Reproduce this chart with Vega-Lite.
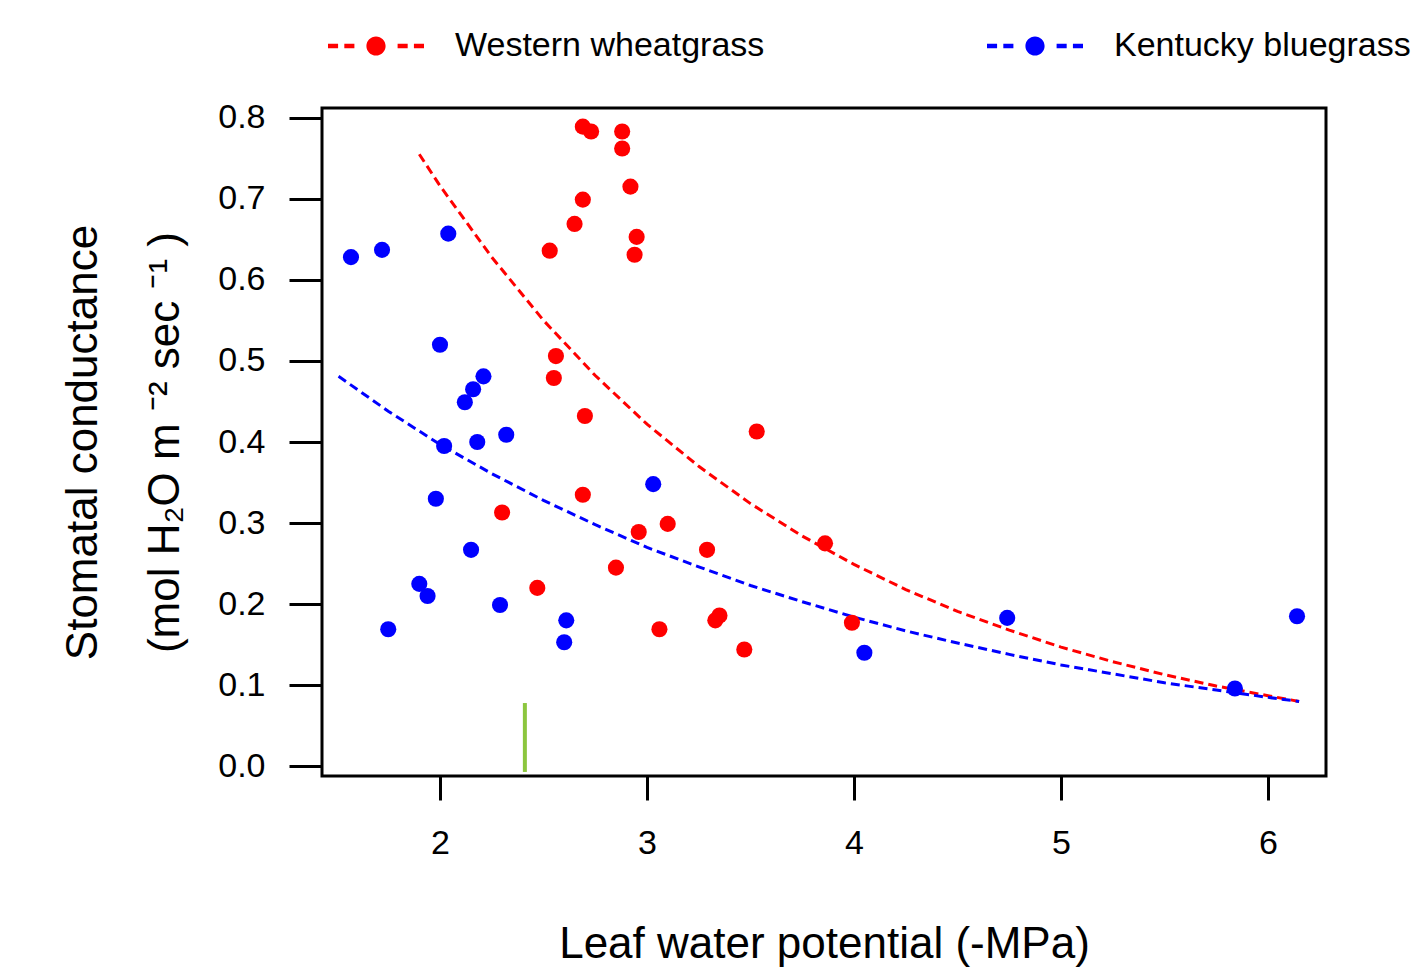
{
  "$schema": "https://vega.github.io/schema/vega-lite/v6.json",
  "width": 1004,
  "height": 668,
  "autosize": {"type": "none"},
  "padding": {"left": 322, "top": 108, "right": 88, "bottom": 202},
  "background": "white",
  "config": {
    "font": "Liberation Sans",
    "view": {"stroke": "black", "strokeWidth": 3},
    "axis": {"grid": false, "domain": false, "tickColor": "black", "tickWidth": 3, "labelColor": "black", "titleColor": "black", "labelFont": "Liberation Sans", "titleFont": "Liberation Sans", "titleFontWeight": "normal"},
    "legend": {"labelFont": "Liberation Sans"}
  },
  "datasets": {
    "pts": [
      {"species": "Western wheatgrass", "lwp": 2.69, "gs": 0.789},
      {"species": "Western wheatgrass", "lwp": 2.73, "gs": 0.783},
      {"species": "Western wheatgrass", "lwp": 2.88, "gs": 0.783},
      {"species": "Western wheatgrass", "lwp": 2.88, "gs": 0.762},
      {"species": "Western wheatgrass", "lwp": 2.92, "gs": 0.715},
      {"species": "Western wheatgrass", "lwp": 2.69, "gs": 0.699},
      {"species": "Western wheatgrass", "lwp": 2.65, "gs": 0.669},
      {"species": "Western wheatgrass", "lwp": 2.53, "gs": 0.636},
      {"species": "Western wheatgrass", "lwp": 2.95, "gs": 0.653},
      {"species": "Western wheatgrass", "lwp": 2.94, "gs": 0.631},
      {"species": "Western wheatgrass", "lwp": 2.56, "gs": 0.506},
      {"species": "Western wheatgrass", "lwp": 2.55, "gs": 0.479},
      {"species": "Western wheatgrass", "lwp": 2.70, "gs": 0.432},
      {"species": "Western wheatgrass", "lwp": 3.53, "gs": 0.413},
      {"species": "Western wheatgrass", "lwp": 2.69, "gs": 0.335},
      {"species": "Western wheatgrass", "lwp": 2.30, "gs": 0.313},
      {"species": "Western wheatgrass", "lwp": 3.10, "gs": 0.299},
      {"species": "Western wheatgrass", "lwp": 2.96, "gs": 0.289},
      {"species": "Western wheatgrass", "lwp": 3.29, "gs": 0.267},
      {"species": "Western wheatgrass", "lwp": 2.85, "gs": 0.245},
      {"species": "Western wheatgrass", "lwp": 2.47, "gs": 0.220},
      {"species": "Western wheatgrass", "lwp": 3.33, "gs": 0.180},
      {"species": "Western wheatgrass", "lwp": 3.35, "gs": 0.186},
      {"species": "Western wheatgrass", "lwp": 3.06, "gs": 0.169},
      {"species": "Western wheatgrass", "lwp": 3.47, "gs": 0.144},
      {"species": "Western wheatgrass", "lwp": 3.86, "gs": 0.275},
      {"species": "Western wheatgrass", "lwp": 3.99, "gs": 0.177},
      {"species": "Kentucky bluegrass", "lwp": 1.57, "gs": 0.628},
      {"species": "Kentucky bluegrass", "lwp": 1.72, "gs": 0.637},
      {"species": "Kentucky bluegrass", "lwp": 2.04, "gs": 0.657},
      {"species": "Kentucky bluegrass", "lwp": 2.00, "gs": 0.520},
      {"species": "Kentucky bluegrass", "lwp": 2.12, "gs": 0.449},
      {"species": "Kentucky bluegrass", "lwp": 2.16, "gs": 0.465},
      {"species": "Kentucky bluegrass", "lwp": 2.21, "gs": 0.481},
      {"species": "Kentucky bluegrass", "lwp": 2.02, "gs": 0.395},
      {"species": "Kentucky bluegrass", "lwp": 2.18, "gs": 0.400},
      {"species": "Kentucky bluegrass", "lwp": 2.32, "gs": 0.409},
      {"species": "Kentucky bluegrass", "lwp": 1.98, "gs": 0.330},
      {"species": "Kentucky bluegrass", "lwp": 2.15, "gs": 0.267},
      {"species": "Kentucky bluegrass", "lwp": 1.90, "gs": 0.225},
      {"species": "Kentucky bluegrass", "lwp": 1.94, "gs": 0.210},
      {"species": "Kentucky bluegrass", "lwp": 2.29, "gs": 0.199},
      {"species": "Kentucky bluegrass", "lwp": 1.75, "gs": 0.169},
      {"species": "Kentucky bluegrass", "lwp": 2.61, "gs": 0.180},
      {"species": "Kentucky bluegrass", "lwp": 2.60, "gs": 0.153},
      {"species": "Kentucky bluegrass", "lwp": 3.03, "gs": 0.348},
      {"species": "Kentucky bluegrass", "lwp": 4.05, "gs": 0.140},
      {"species": "Kentucky bluegrass", "lwp": 4.74, "gs": 0.183},
      {"species": "Kentucky bluegrass", "lwp": 5.84, "gs": 0.096},
      {"species": "Kentucky bluegrass", "lwp": 6.14, "gs": 0.185}
    ],
    "fit": [
      {"species": "Western wheatgrass", "lwp": 1.9, "gs": 0.755},
      {"species": "Western wheatgrass", "lwp": 2.0, "gs": 0.716},
      {"species": "Western wheatgrass", "lwp": 2.25, "gs": 0.628},
      {"species": "Western wheatgrass", "lwp": 2.5, "gs": 0.550},
      {"species": "Western wheatgrass", "lwp": 2.75, "gs": 0.482},
      {"species": "Western wheatgrass", "lwp": 3.0, "gs": 0.422},
      {"species": "Western wheatgrass", "lwp": 3.25, "gs": 0.370},
      {"species": "Western wheatgrass", "lwp": 3.5, "gs": 0.324},
      {"species": "Western wheatgrass", "lwp": 3.75, "gs": 0.284},
      {"species": "Western wheatgrass", "lwp": 4.0, "gs": 0.249},
      {"species": "Western wheatgrass", "lwp": 4.25, "gs": 0.218},
      {"species": "Western wheatgrass", "lwp": 4.5, "gs": 0.191},
      {"species": "Western wheatgrass", "lwp": 4.75, "gs": 0.168},
      {"species": "Western wheatgrass", "lwp": 5.0, "gs": 0.147},
      {"species": "Western wheatgrass", "lwp": 5.25, "gs": 0.129},
      {"species": "Western wheatgrass", "lwp": 5.5, "gs": 0.113},
      {"species": "Western wheatgrass", "lwp": 5.75, "gs": 0.099},
      {"species": "Western wheatgrass", "lwp": 6.0, "gs": 0.087},
      {"species": "Western wheatgrass", "lwp": 6.15, "gs": 0.080},
      {"species": "Kentucky bluegrass", "lwp": 1.51, "gs": 0.481},
      {"species": "Kentucky bluegrass", "lwp": 1.75, "gs": 0.438},
      {"species": "Kentucky bluegrass", "lwp": 2.0, "gs": 0.397},
      {"species": "Kentucky bluegrass", "lwp": 2.25, "gs": 0.361},
      {"species": "Kentucky bluegrass", "lwp": 2.5, "gs": 0.328},
      {"species": "Kentucky bluegrass", "lwp": 2.75, "gs": 0.298},
      {"species": "Kentucky bluegrass", "lwp": 3.0, "gs": 0.270},
      {"species": "Kentucky bluegrass", "lwp": 3.25, "gs": 0.246},
      {"species": "Kentucky bluegrass", "lwp": 3.5, "gs": 0.223},
      {"species": "Kentucky bluegrass", "lwp": 3.75, "gs": 0.203},
      {"species": "Kentucky bluegrass", "lwp": 4.0, "gs": 0.184},
      {"species": "Kentucky bluegrass", "lwp": 4.25, "gs": 0.167},
      {"species": "Kentucky bluegrass", "lwp": 4.5, "gs": 0.152},
      {"species": "Kentucky bluegrass", "lwp": 4.75, "gs": 0.138},
      {"species": "Kentucky bluegrass", "lwp": 5.0, "gs": 0.125},
      {"species": "Kentucky bluegrass", "lwp": 5.25, "gs": 0.114},
      {"species": "Kentucky bluegrass", "lwp": 5.5, "gs": 0.103},
      {"species": "Kentucky bluegrass", "lwp": 5.75, "gs": 0.094},
      {"species": "Kentucky bluegrass", "lwp": 6.0, "gs": 0.085},
      {"species": "Kentucky bluegrass", "lwp": 6.15, "gs": 0.080}
    ],
    "marker": [{"lwp": 2.41, "lo": -0.007, "hi": 0.078}]
  },
  "layer": [
    {
      "data": {"name": "marker"},
      "mark": {"type": "rule", "color": "#8cc63e", "strokeWidth": 4},
      "encoding": {
        "x": {"field": "lwp", "type": "quantitative"},
        "y": {"field": "lo", "type": "quantitative"},
        "y2": {"field": "hi"}
      }
    },
    {
      "data": {"name": "fit"},
      "mark": {"type": "line", "strokeWidth": 3, "strokeDash": [9, 5], "clip": true},
      "encoding": {
        "x": {"field": "lwp", "type": "quantitative"},
        "y": {"field": "gs", "type": "quantitative"},
        "detail": {"field": "species"},
        "color": {"field": "species", "type": "nominal"}
      }
    },
    {
      "data": {"name": "pts"},
      "mark": {"type": "point", "filled": true, "opacity": 1, "size": 260, "shape": "circle"},
      "encoding": {
        "x": {
          "field": "lwp", "type": "quantitative",
          "scale": {"domain": [1.43, 6.28], "nice": false, "zero": false},
          "axis": {"values": [2, 3, 4, 5, 6], "format": "d", "tickSize": 24, "labelPadding": 26, "labelFontSize": 34, "title": "Leaf water potential (-MPa)", "titleFontSize": 44, "titlePadding": 62}
        },
        "y": {
          "field": "gs", "type": "quantitative",
          "scale": {"domain": [-0.012, 0.812], "nice": false, "zero": false},
          "axis": {"values": [0, 0.1, 0.2, 0.3, 0.4, 0.5, 0.6, 0.7, 0.8], "format": ".1f", "tickSize": 33, "labelPadding": 24, "labelFontSize": 34, "title": ["Stomatal conductance", "(mol H₂O m ⁻² sec ⁻¹ )"], "titleFontSize": 44, "titleLineHeight": 82, "titlePadding": 30}
        },
        "color": {
          "field": "species", "type": "nominal",
          "scale": {"domain": ["Western wheatgrass", "Kentucky bluegrass"], "range": ["#ff0000", "#0000ff"]},
          "legend": {
            "title": null, "orient": "none", "direction": "horizontal", "columns": 2,
            "legendX": 6, "legendY": -110, "padding": 0,
            "symbolType": "M-1,-0.045H-0.79V0.045H-1Z M-0.66,-0.045H-0.45V0.045H-0.66Z M0.45,-0.045H0.66V0.045H0.45Z M0.79,-0.045H1V0.045H0.79Z M-0.2,0A0.2,0.2 0 1,0 0.2,0A0.2,0.2 0 1,0 -0.2,0Z",
            "symbolSize": 9216, "symbolStrokeWidth": 0, "symbolOpacity": 1,
            "labelFontSize": 34, "labelColor": "black", "labelOffset": 31, "columnPadding": 222, "labelLimit": 500
          }
        }
      }
    }
  ]
}
